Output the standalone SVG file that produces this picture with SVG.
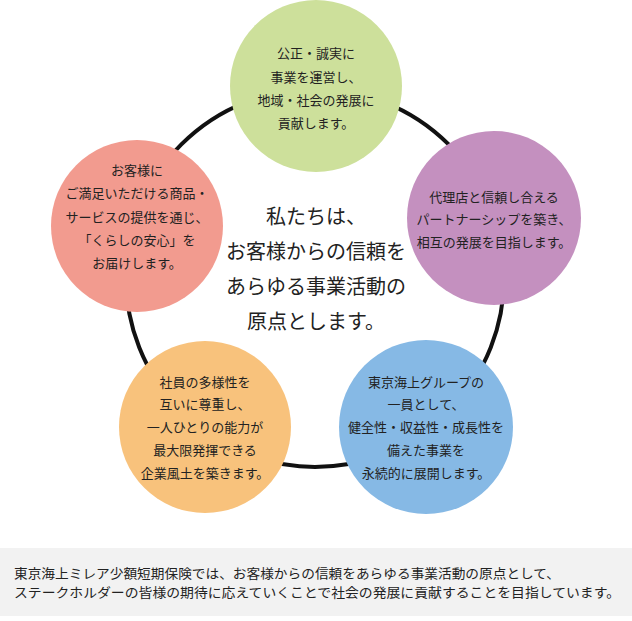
<svg xmlns="http://www.w3.org/2000/svg" width="632" height="621" viewBox="0 0 632 621">
<style>
text{font-family:"Noto Sans CJK JP","Noto Sans",sans-serif;fill:#222;text-anchor:middle}
.s{font-size:13px}
.c{font-size:20px}
.f{font-size:13px;text-anchor:start}
</style>
<rect width="632" height="621" fill="#fff"/>
<g id="connectors">
<circle cx="315" cy="278" r="189" fill="none" stroke="#111" stroke-width="4"/>
</g>
<g id="center">
<text class="c" x="316" y="224">私たちは、</text>
<text class="c" x="316" y="259">お客様からの信頼を</text>
<text class="c" x="316" y="294">あらゆる事業活動の</text>
<text class="c" x="316" y="329">原点とします。</text>
</g>
<g id="green">
<circle cx="316" cy="86" r="86" fill="#cde09b"/>
<text class="s" x="316" y="58">公正・誠実に</text>
<text class="s" x="316" y="82">事業を運営し、</text>
<text class="s" x="316" y="105">地域・社会の発展に</text>
<text class="s" x="316" y="128">貢献します。</text>
</g>
<g id="purple">
<circle cx="494" cy="218" r="87" fill="#c490bf"/>
<text class="s" x="494" y="202">代理店と信頼し合える</text>
<text class="s" x="494" y="224">パートナーシップを築き、</text>
<text class="s" x="494" y="247">相互の発展を目指します。</text>
</g>
<g id="pink">
<circle cx="137" cy="226" r="86" fill="#f29b8f"/>
<text class="s" x="137" y="175">お客様に</text>
<text class="s" x="137" y="198">ご満足いただける商品・</text>
<text class="s" x="137" y="222">サービスの提供を通じ、</text>
<text class="s" x="137" y="245">「くらしの安心」を</text>
<text class="s" x="137" y="268">お届けします。</text>
</g>
<g id="orange">
<circle cx="205" cy="427" r="86" fill="#f8c27c"/>
<text class="s" x="205" y="387">社員の多様性を</text>
<text class="s" x="205" y="409">互いに尊重し、</text>
<text class="s" x="205" y="432">一人ひとりの能力が</text>
<text class="s" x="205" y="455">最大限発揮できる</text>
<text class="s" x="205" y="478">企業風土を築きます。</text>
</g>
<g id="blue">
<circle cx="426" cy="427" r="87" fill="#86b9e5"/>
<text class="s" x="426" y="387">東京海上グループの</text>
<text class="s" x="426" y="409">一員として、</text>
<text class="s" x="426" y="432">健全性・収益性・成長性を</text>
<text class="s" x="426" y="455">備えた事業を</text>
<text class="s" x="426" y="478">永続的に展開します。</text>
</g>
<g id="footer">
<rect x="0" y="548" width="632" height="68" fill="#f2f2f2"/>
<text class="f" x="14" y="578" textLength="546" lengthAdjust="spacingAndGlyphs">東京海上ミレア少額短期保険では、お客様からの信頼をあらゆる事業活動の原点として、</text>
<text class="f" x="14" y="597" textLength="606" lengthAdjust="spacingAndGlyphs">ステークホルダーの皆様の期待に応えていくことで社会の発展に貢献することを目指しています。</text>
</g>
</svg>
